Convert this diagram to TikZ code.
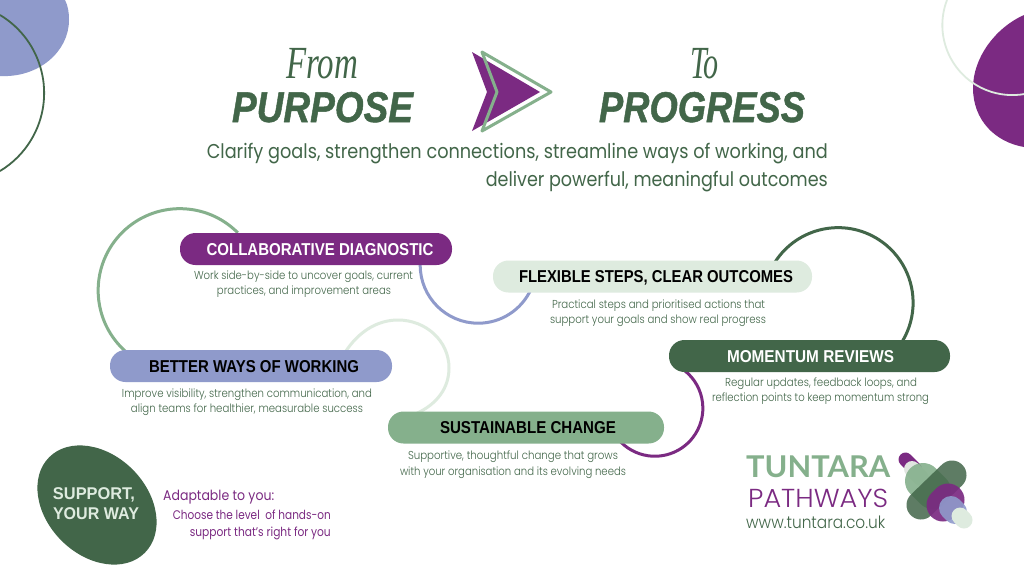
\documentclass[tikz,border=0pt]{standalone}
\usepackage{graphicx}
\usepackage{fontspec}
\usetikzlibrary{backgrounds}
\setmainfont{Poppins}[UprightFont=* Light,BoldFont=* Medium]
\newfontfamily\reg{Poppins}
\newfontfamily\heavy{Liberation Sans}
\newfontfamily\headf{Liberation Sans}[BoldItalicFeatures={FakeBold=1.2}]
\newfontfamily\disp{Liberation Serif}
\newfontfamily\logof{Lato}
\definecolor{dk}{HTML}{426649}
\definecolor{md}{HTML}{85B08C}
\definecolor{pl}{HTML}{DEEBDF}
\definecolor{pu}{HTML}{7B2A82}
\definecolor{bl}{HTML}{8F9ACB}
\newcommand\fitw[2]{\resizebox{#1pt}{\height}{#2}}
\tikzset{
  pill/.style={rounded corners=15.5pt,inner sep=0pt,minimum height=32pt,text height=12.3pt,text depth=0pt,font=\heavy\bfseries\fontsize{17.2}{17}\selectfont},
  desc/.style={inner sep=0pt,anchor=base,text=dk,font=\fontsize{11.5}{12}\selectfont},
  head/.style={inner sep=0pt,anchor=base,text=dk},
  arcline/.style={line width=3pt},
  logobar/.style={line cap=round},
}
\begin{document}
\begin{tikzpicture}[x=1pt,y=-1pt]
\useasboundingbox (0,0) rectangle (1024,576);
% corner decorations
\fill[bl] (0,76) .. controls (38,78) and (69,52) .. (69,20) .. controls (69,12) and (68,6) .. (65,0) -- (0,0) -- cycle;
\draw[dk,line width=1.8pt] (0,15) arc[start angle=-59,end angle=59,radius=91];
\fill[pu] (1024,15) .. controls (995,28) and (973,58) .. (973,88) .. controls (973,120) and (995,142) .. (1024,147) -- cycle;
\draw[pl,line width=1.8pt] (947,0) arc[start angle=201,end angle=80,radius=70];
% heading
\node[head,font=\disp\itshape\fontsize{46}{46}\selectfont] (from) at (322,78) {\fitw{72}{From}};
\node[head,font=\headf\bfseries\itshape\fontsize{43}{43}\selectfont] (purpose) at (322.5,122) {\fitw{181}{PURPOSE}};
\node[head,font=\disp\itshape\fontsize{46}{46}\selectfont] (to) at (704.5,78) {\fitw{29}{To}};
\node[head,font=\headf\bfseries\itshape\fontsize{43}{43}\selectfont] (progress) at (702,122) {\fitw{206}{PROGRESS}};
\fill[pu] (472,52) -- (540,92) -- (472,131) -- (487,92) -- cycle;
\draw[md,line width=3pt,line join=round] (482,52) -- (551,92) -- (482,131) -- (497,92) -- cycle;
\node[head,anchor=base east,font=\reg\fontsize{20}{20}\selectfont] (sub1) at (828,158) {\fitw{621}{Clarify goals, strengthen connections, streamline ways of working, and}};
\node[head,anchor=base east,font=\reg\fontsize{20}{20}\selectfont] (sub2) at (828,186) {\fitw{342}{deliver powerful, meaningful outcomes}};
% pills
\node[pill,minimum width=272pt,fill=pu,text=white] (collab) at (316,249) {\hspace{8pt}\fitw{227}{COLLABORATIVE DIAGNOSTIC}};
\node[pill,minimum width=319pt,fill=pl,text=black] (flex) at (652.5,276.5) {\hspace{7pt}\fitw{274}{FLEXIBLE STEPS, CLEAR OUTCOMES}};
\node[pill,minimum width=282pt,fill=bl,text=black] (better) at (251,366) {\hspace{6pt}\fitw{210}{BETTER WAYS OF WORKING}};
\node[pill,minimum width=276pt,fill=md,text=black] (sustain) at (526,427.5) {\hspace{4pt}\fitw{176}{SUSTAINABLE CHANGE}};
\node[pill,minimum width=281pt,fill=dk,text=white] (moment) at (809.5,356) {\hspace{2pt}\fitw{167}{MOMENTUM REVIEWS}};
% connectors behind the pills
\begin{scope}[on background layer]
\fill[white] (0,0) rectangle (1024,576);
\draw[arcline,md] ([xshift=58pt]collab.north west) arc[start angle=-44.8,end angle=-229,radius=81.7] -- ([xshift=16.4pt,yshift=-2pt]better.north west);
\draw[arcline,bl] ([xshift=-32pt]collab.south east) arc[start angle=180,end angle=25,radius=58] -- ([xshift=37.6pt,yshift=3pt]flex.south west);
\draw[arcline,pl] ([xshift=235pt,yshift=-3pt]better.north west) .. controls (358,332) and (377,320) .. (398,320) .. controls (426,320) and (449,341) .. (449,368) .. controls (449,388) and (437,404) .. ([xshift=29pt,yshift=-2pt]sustain.north west);
\draw[dk,line width=3pt] ([xshift=-37pt,yshift=-1.5pt]flex.north east) arc[start angle=-147,end angle=35,radius=75] -- ([xshift=230.4pt,yshift=-6pt]moment.north west);
\draw[pu,line width=3pt] ([xshift=15.6pt,yshift=1.8pt]moment.south west) arc[start angle=-52,end angle=140,radius=48] -- ([xshift=-45.8pt,yshift=4.6pt]sustain.south east);
\end{scope}
% descriptions
\node[desc] (d1a) at (303.5,279) {\fitw{219}{Work side-by-side to uncover goals, current}};
\node[desc] (d1b) at (304,294) {\fitw{174}{practices, and improvement areas}};
\node[desc] (d2a) at (658.5,308) {\fitw{213}{Practical steps and prioritised actions that}};
\node[desc] (d2b) at (658,323) {\fitw{216}{support your goals and show real progress}};
\node[desc] (d3a) at (247,397) {\fitw{250}{Improve visibility, strengthen communication, and}};
\node[desc] (d3b) at (247,412) {\fitw{232}{align teams for healthier, measurable success}};
\node[desc] (d4a) at (513,459) {\fitw{210}{Supportive, thoughtful change that grows}};
\node[desc] (d4b) at (513,475) {\fitw{226}{with your organisation and its evolving needs}};
\node[desc] (d5a) at (821,386) {\fitw{192}{Regular updates, feedback loops, and}};
\node[desc] (d5b) at (820.5,401) {\fitw{217}{reflection points to keep momentum strong}};
% support
\fill[dk,rotate around={-45:(97,505)}] (97,505) ellipse [x radius=67.6,y radius=50.3];
\node[inner sep=0pt,anchor=base,text=pl,font=\heavy\bfseries\fontsize{17}{17}\selectfont] (s1) at (94,499) {\fitw{82}{SUPPORT,}};
\node[inner sep=0pt,anchor=base,text=pl,font=\heavy\bfseries\fontsize{17}{17}\selectfont] (s2) at (96,519) {\fitw{86}{YOUR WAY}};
\node[inner sep=0pt,anchor=base west,text=pu,font=\reg\fontsize{14}{14}\selectfont] (ad) at (163,500) {\fitw{111}{Adaptable to you:}};
\node[inner sep=0pt,anchor=base east,text=pu,font=\reg\fontsize{12.5}{13}\selectfont] (ad1) at (331,519) {\fitw{158}{Choose the level\ \ of hands-on}};
\node[inner sep=0pt,anchor=base east,text=pu,font=\reg\fontsize{12.5}{13}\selectfont] (ad2) at (331,536) {\fitw{141}{support that’s right for you}};
% logo text
\node[inner sep=0pt,anchor=base west,text=md,font=\logof\bfseries\fontsize{30}{30}\selectfont] (l1) at (746,477) {\fitw{144}{TUNTARA}};
\node[inner sep=0pt,anchor=base west,text=pu,font=\fontsize{26}{26}\selectfont] (l2) at (748,507) {\fitw{140}{PATHWAYS}};
\node[inner sep=0pt,anchor=base west,text=dk,font=\fontsize{17}{17}\selectfont] (l3) at (746,528) {\fitw{139}{www.tuntara.co.uk}};
% logo mark
\draw[logobar,pu,line width=14pt] (905.5,459.5) -- (915,469);
\draw[logobar,pl!80!gray!60,line width=16pt] (912,469) -- (921,478);
\draw[logobar,md,opacity=.9,line width=36pt] (923,481) -- (933,491);
\draw[logobar,dk,opacity=.85,line width=29pt] (921,505) -- (952,475);
\draw[logobar,pu,opacity=.92,line width=33pt] (943,505) -- (948,500);
\draw[logobar,bl,opacity=.9,line width=24pt] (951,508) -- (955,512);
\draw[logobar,pl,line width=17pt] (960,516) -- (964,520);
\end{tikzpicture}
\end{document}
